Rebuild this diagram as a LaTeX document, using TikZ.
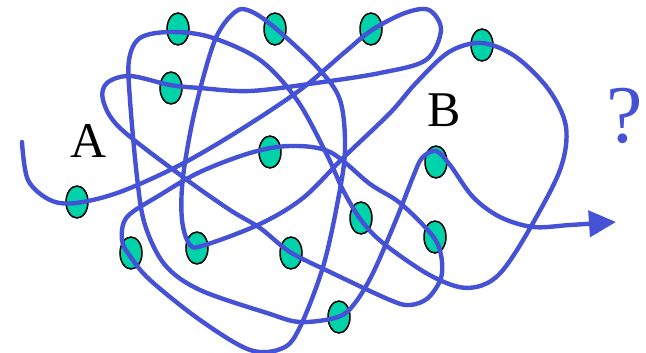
\documentclass[tikz,border=0pt]{standalone}
\usepackage{fontspec}
\setmainfont{Liberation Serif}
\usetikzlibrary{shapes.geometric,arrows.meta}
\definecolor{wire}{RGB}{70,82,214}
\definecolor{bead}{RGB}{0,210,170}
\tikzset{
  bead/.style={ellipse,draw=black,line width=1.5pt,fill=bead,inner sep=0pt,minimum width=22pt,minimum height=32pt},
  wirestyle/.style={draw=wire,line width=4.4pt,line cap=round,line join=round},
  lbl/.style={font=\fontsize{50}{50}\selectfont,inner sep=0pt}
}
\begin{document}
\begin{tikzpicture}[x=1pt,y=-1pt]
\useasboundingbox (0,0) rectangle (646,353);
\node[bead] (o1) at (178,29) {};
\node[bead] (o2) at (275,29) {};
\node[bead] (o3) at (371,29) {};
\node[bead] (o4) at (482,45) {};
\node[bead] (o5) at (171,88) {};
\node[bead] (o6) at (270,152) {};
\node[bead] (o7) at (436,162) {};
\node[bead] (o8) at (77,202) {};
\node[bead] (o9) at (361,218) {};
\node[bead] (o10) at (435,237) {};
\node[bead] (o11) at (131,253) {};
\node[bead] (o12) at (197,248) {};
\node[bead] (o13) at (291,253) {};
\node[bead] (o14) at (339,317) {};
\node[lbl] (la) at (89,141) {A};
\node[lbl] (lb) at (444,110) {B};
\node[lbl,text=wire,font=\fontsize{82}{82}\selectfont] (lq) at (625,116) {?};
\draw[wirestyle,-{Triangle[length=27pt,width=26pt]}] plot[smooth,tension=0.55] coordinates {
(22,142) (28,180) (50,200) (76,203) (120,192) (180,165) (240,130) (300,90) (345,52)
(372,30) (405,13) (429,10) (441,30) (426,60) (380,73) (316,83) (250,91) (200,88)
(170,85) (130,76) (107,83) (103,100) (120,128) (183,177) (230,210) (260,228)
(290,252) (330,272) (390,300) (410,305) (428,298) (441,278) (441,255) (432,235)
(400,203) (370,184) (330,152) (290,146) (250,153) (200,172) (160,195) (127,217)
(122,240) (130,256) (150,280) (200,320) (250,350) (283,348) (300,327) (323,267)
(338,200) (345,150) (340,100) (317,67) (274,27) (250,11) (235,12) (215,40)
(195,110) (183,177) (182,220) (190,245) (205,245) (260,224) (303,198) (343,158)
(390,113) (416,83) (449,52) (482,43) (516,57) (549,90) (566,127) (560,170)
(529,230) (503,270) (483,285) (459,287) (426,273) (383,243) (361,220) (343,190)
(327,155) (297,100) (260,60) (210,37) (170,32) (140,38) (129,60) (130,100)
(137,177) (145,225) (165,265) (200,290) (267,313) (300,322) (338,317) (355,303)
(373,273) (396,220) (413,177) (422,158) (436,151) (450,165) (473,197) (500,217)
(533,227) (570,225) (616,222)
};
\end{tikzpicture}
\end{document}
